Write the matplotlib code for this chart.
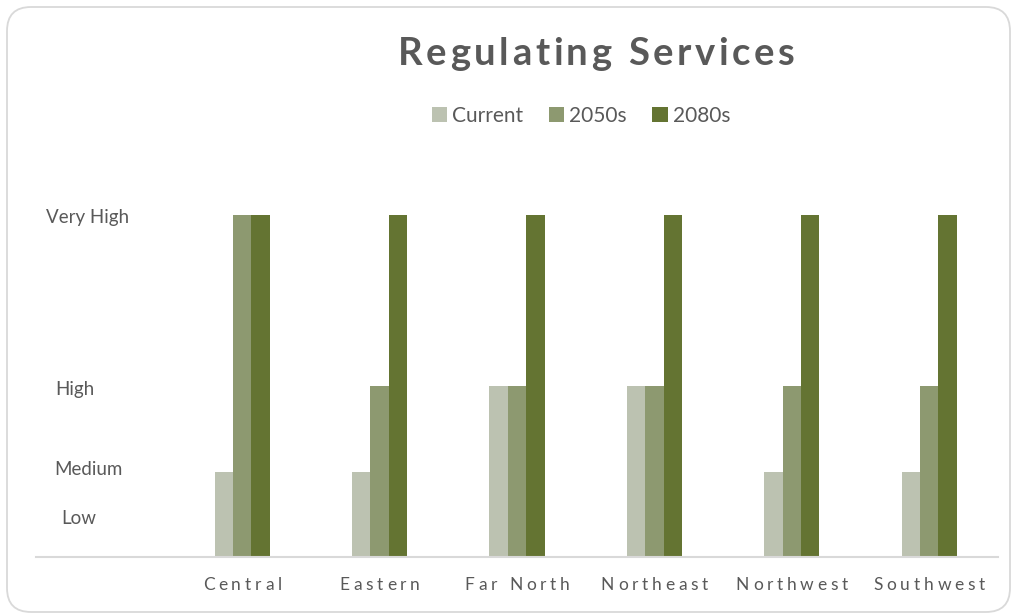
import matplotlib
matplotlib.use("Agg")
import matplotlib.pyplot as plt
import numpy as np
from matplotlib.font_manager import FontProperties, findfont, get_font
from matplotlib.patches import FancyBboxPatch
from matplotlib.transforms import IdentityTransform

# ratings per region (Low=0.5, Medium=1, High=2, Very High=4)
regions = ["Central", "Eastern", "Far North", "Northeast", "Northwest", "Southwest"]
series = ["Current", "2050s", "2080s"]
current = [1, 1, 2, 2, 1, 1]
mid_century = [4, 2, 2, 2, 2, 2]
late_century = [4, 4, 4, 4, 4, 4]
levels = ["Low", "Medium", "High", "Very High"]
level_values = [0.5, 1, 2, 4]

colors = ["#bcc2b1", "#8d9970", "#647432"]
FONT = "Lato"
TEXT = "#595959"
DPI = 100
W, H = 1014, 614


def advances(s, size, weight="normal"):
    prop = FontProperties(family=FONT, size=size, weight=weight)
    font = get_font(findfont(prop))
    font.set_size(size, DPI)
    return [font.load_char(ord(c)).linearHoriAdvance / 65536 for c in s]


def spaced_text(fig, cx, y, s, size, spacing, weight="normal", color=TEXT, va="center"):
    """Draw s centred on pixel x=cx (y in pixels from the top) with extra letter spacing."""
    adv = advances(s, size, weight)
    total = sum(adv) + spacing * (len(s) - 1)
    x = cx - total / 2
    for ch, a in zip(s, adv):
        if ch != " ":
            fig.text(x / W, 1 - y / H, ch, fontsize=size, fontfamily=FONT,
                     fontweight=weight, color=color, ha="left", va=va)
        x += a + spacing


fig = plt.figure(figsize=(W / DPI, H / DPI), dpi=DPI)
fig.patch.set_facecolor("white")

# chart frame with rounded corners
frame = FancyBboxPatch((7, 2), 1003, 605, boxstyle="round,pad=0,rounding_size=24",
                       transform=IdentityTransform(), fc="none", ec="#d9d9d9", lw=1.3)
fig.patches.append(frame)

unit = 85.5  # pixels per rating unit
top_px = 150
ax = fig.add_axes([36 / W, 57 / H, 962 / W, (557 - top_px) / H])
ax.set_xlim(-1.5, len(regions) - 0.5)
ax.set_ylim(0, (557 - top_px) / unit)

x = np.arange(len(regions))
width = 0.134
bars = []
for k, (name, vals) in enumerate(zip(series, [current, mid_century, late_century])):
    bars.append(ax.bar(x + (k - 1) * width, vals, width, color=colors[k], label=name, lw=0))

for side in ["top", "left", "right"]:
    ax.spines[side].set_visible(False)
ax.spines["bottom"].set_color("#d9d9d9")
ax.spines["bottom"].set_linewidth(1.5)
ax.set_xticks([])
ax.set_yticks([])

fig.canvas.draw()

# rating labels on the left
label_x = [79, 88, 75, 88]
label_dy = [4, -2, 3, 3]
for name, val, lx, dy in zip(levels, level_values, label_x, label_dy):
    py = H - ax.transData.transform((0, val))[1] + dy
    fig.text(lx / W, 1 - py / H, name, fontsize=13.5, fontfamily=FONT,
             color=TEXT, ha="center", va="center")

# region names with wide letter spacing
for i, name in enumerate(regions):
    px = ax.transData.transform((i, 0))[0]
    spaced_text(fig, px, 585, name, 12.5, 3.8)

spaced_text(fig, 596, 54, "Regulating Services", 27.5, 3.6, weight="bold")

fig.legend(handles=bars, labels=series, loc="center", bbox_to_anchor=(581 / W, 1 - 116 / H),
           ncol=3, frameon=False, handlelength=0.75, handleheight=0.75,
           handletextpad=0.25, columnspacing=1.2, labelcolor=TEXT,
           prop={"family": FONT, "size": 15})

fig.savefig("out.png", dpi=DPI)
